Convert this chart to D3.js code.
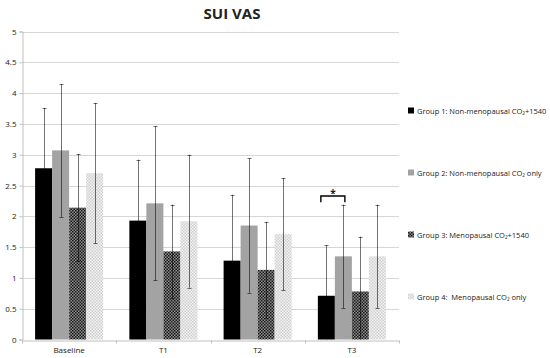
<!DOCTYPE html>
<html>
<head>
<meta charset="utf-8">
<script src="https://cdn.jsdelivr.net/npm/d3@7"></script>
<style>
  body { margin: 0; background: #fff; }
  text { font-family: "Open Sans", "DejaVu Sans", sans-serif; fill: #222; white-space: pre; }
</style>
</head>
<body>
<svg id="chart" width="550" height="358"></svg>
<script>
// data
var categories = ["Baseline", "T1", "T2", "T3"];
var groups = [
    "Group 1: Non-menopausal CO₂+1540",
    "Group 2: Non-menopausal CO₂ only",
    "Group 3: Menopausal CO₂+1540",
    "Group 4:  Menopausal CO₂ only"
];
var group1 = [2.78, 1.93, 1.28, 0.71];
var group2 = [3.07, 2.21, 1.85, 1.35];
var group3 = [2.14, 1.43, 1.13, 0.78];
var group4 = [2.70, 1.92, 1.71, 1.35];
var sd1 = [0.98, 0.99, 1.07, 0.82];
var sd2 = [1.08, 1.25, 1.09, 0.84];
var sd3 = [0.87, 0.76, 0.78, 0.89];
var sd4 = [1.14, 1.08, 0.91, 0.84];
var yTicks = [0, 0.5, 1, 1.5, 2, 2.5, 3, 3.5, 4, 4.5, 5];
// significance bracket between group 1 and 2 at T3
var sigCategory = "T3", sigGroups = [0, 1], sigLevel = 2.33;

var svg = d3.select("#chart");
var defs = svg.append("defs");

// dark checker for group 3
var p3 = defs.append("pattern").attr("id", "chk3").attr("patternUnits", "userSpaceOnUse")
    .attr("width", 3).attr("height", 3);
p3.append("rect").attr("width", 3).attr("height", 3).attr("fill", "#8a8a8a");
p3.append("rect").attr("width", 1.5).attr("height", 1.5).attr("fill", "#1a1a1a");
p3.append("rect").attr("x", 1.5).attr("y", 1.5).attr("width", 1.5).attr("height", 1.5).attr("fill", "#1a1a1a");
// light checker for group 4
var p4 = defs.append("pattern").attr("id", "chk4").attr("patternUnits", "userSpaceOnUse")
    .attr("width", 3).attr("height", 3);
p4.append("rect").attr("width", 3).attr("height", 3).attr("fill", "#f2f2f2");
p4.append("rect").attr("width", 1.5).attr("height", 1.5).attr("fill", "#d0d0d0");
p4.append("rect").attr("x", 1.5).attr("y", 1.5).attr("width", 1.5).attr("height", 1.5).attr("fill", "#d0d0d0");

var fills = ["#000", "#a3a3a3", "url(#chk3)", "url(#chk4)"];
var values = [group1, group2, group3, group4];
var sds = [sd1, sd2, sd3, sd4];

var x0 = d3.scaleBand().domain(categories).range([22, 399]);
var x1 = d3.scaleBand().domain(d3.range(groups.length))
    .range([0, x0.bandwidth()]).paddingInner(0).paddingOuter(0.77);
var y = d3.scaleLinear().domain([0, 5]).range([339.5, 31.5]);

// grid
svg.append("g").selectAll("line").data(yTicks.slice(1)).enter().append("line")
    .attr("x1", 22).attr("x2", 399)
    .attr("y1", d => Math.round(y(d)) + 0.5).attr("y2", d => Math.round(y(d)) + 0.5)
    .attr("stroke", "#d6d6d6");

// axes
var yAxis = d3.axisLeft(y).tickValues(yTicks).tickSize(3).tickFormat(d3.format(""));
var gy = svg.append("g").attr("transform", "translate(22.5,0)").call(yAxis);
gy.select(".domain").attr("stroke", "#c0c0c0");
gy.selectAll(".tick line").attr("stroke", "#c0c0c0");
gy.selectAll("text").attr("font-size", 8).attr("fill", "#333").attr("x", -6);

var xAxis = d3.axisBottom(x0).tickSize(0);
var gx = svg.append("g").attr("transform", "translate(0," + (Math.round(y(0)) + 0.5) + ")").call(xAxis);
gx.select(".domain").attr("stroke", "#c0c0c0");
gx.selectAll("text").attr("font-size", 8).attr("fill", "#333").attr("dy", "1.2em");
// category boundary ticks
gx.append("g").selectAll("line").data(categories.concat([null])).enter().append("line")
    .attr("x1", (d, i) => Math.round(22 + i * x0.step()) + 0.5)
    .attr("x2", (d, i) => Math.round(22 + i * x0.step()) + 0.5)
    .attr("y1", 0).attr("y2", 3).attr("stroke", "#c0c0c0");

// bars
var rows = [];
categories.forEach((c, ci) => {
    values.forEach((v, gi) => rows.push({ cat: c, g: gi, v: v[ci], sd: sds[gi][ci] }));
});

svg.append("g").selectAll("rect").data(rows).enter().append("rect")
    .attr("x", d => x0(d.cat) + x1(d.g))
    .attr("y", d => y(d.v))
    .attr("width", x1.bandwidth())
    .attr("height", d => y(0) - y(d.v))
    .attr("fill", d => fills[d.g]);

// error bars
var eb = svg.append("g").attr("stroke", "#000").attr("stroke-opacity", 0.55).attr("stroke-width", 1);
rows.forEach(d => {
    var cx = Math.round(x0(d.cat) + x1(d.g) + x1.bandwidth() / 2) + 0.5;
    var lo = Math.max(0, d.v - d.sd), hi = d.v + d.sd;
    eb.append("line").attr("x1", cx).attr("x2", cx).attr("y1", y(hi)).attr("y2", y(lo));
    eb.append("line").attr("x1", cx - 2).attr("x2", cx + 2).attr("y1", Math.round(y(hi)) + 0.5).attr("y2", Math.round(y(hi)) + 0.5);
    if (lo > 0) eb.append("line").attr("x1", cx - 2).attr("x2", cx + 2).attr("y1", Math.round(y(lo)) + 0.5).attr("y2", Math.round(y(lo)) + 0.5);
});

// significance bracket
var bxa = x0(sigCategory) + x1(sigGroups[0]) + 3;
var bxb = x0(sigCategory) + x1(sigGroups[1]) + x1.bandwidth() - 7;
svg.append("path")
    .attr("d", "M" + bxa + "," + y(sigLevel - 0.1) + "V" + y(sigLevel) + "H" + bxb + "V" + y(sigLevel - 0.1))
    .attr("fill", "none").attr("stroke", "#000").attr("stroke-width", 1.4);
svg.append("text").attr("x", (bxa + bxb) / 2).attr("y", y(sigLevel) + 1)
    .attr("text-anchor", "middle").attr("font-size", 10).attr("font-weight", "bold").text("*");

// title
svg.append("text").attr("x", 232).attr("y", 19).attr("text-anchor", "middle")
    .attr("font-size", 15).attr("font-weight", "bold").attr("fill", "#000").text("SUI VAS");

// legend
var ly = d3.scalePoint().domain(d3.range(groups.length)).range([111, 297]);
var lg = svg.append("g").selectAll("g").data(groups).enter().append("g")
    .attr("transform", (d, i) => "translate(408," + ly(i) + ")");
lg.append("rect").attr("x", 0).attr("y", -3.5).attr("width", 6).attr("height", 6)
    .attr("fill", (d, i) => fills[i]);
lg.append("text").attr("x", 9).attr("y", 3).attr("font-size", 7.5).attr("fill", "#222").text(d => d);
</script>
</body>
</html>
